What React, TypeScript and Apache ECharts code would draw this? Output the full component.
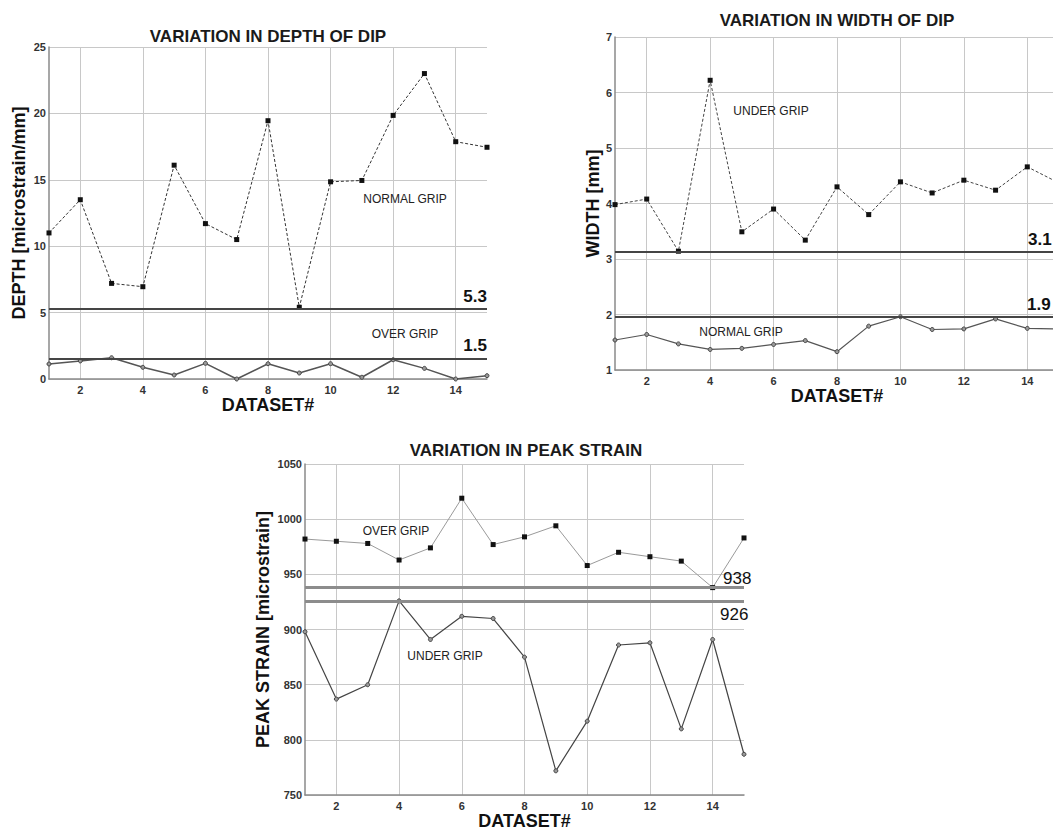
import { useEffect, useRef } from "react";
import * as echarts from "echarts";

const FONT = "'Liberation Sans', Arial, Helvetica, sans-serif";

const datasets = ["1", "2", "3", "4", "5", "6", "7", "8", "9", "10", "11", "12", "13", "14", "15"];

// Chart 1: variation in depth of dip
const depthNormalGrip = [11.0, 13.5, 7.2, 6.95, 16.1, 11.7, 10.5, 19.45, 5.4, 14.85, 14.95, 19.85, 23.0, 17.87, 17.45];
const depthOverGrip = [1.13, 1.36, 1.6, 0.88, 0.3, 1.18, 0.0, 1.15, 0.45, 1.15, 0.13, 1.45, 0.8, 0.0, 0.25];
const depthThresholds = [5.3, 1.56];
const depthThresholdLabels = ["5.3", "1.5"];

// Chart 2: variation in width of dip
const widthUnderGrip = [3.98, 4.08, 3.14, 6.22, 3.49, 3.9, 3.34, 4.3, 3.8, 4.39, 4.19, 4.42, 4.24, 4.66, 4.37];
const widthNormalGrip = [1.54, 1.64, 1.47, 1.37, 1.39, 1.46, 1.53, 1.33, 1.79, 1.96, 1.73, 1.74, 1.92, 1.75, 1.74];
const widthThresholds = [3.13, 1.96];
const widthThresholdLabels = ["3.1", "1.9"];

// Chart 3: variation in peak strain
const strainOverGrip = [982, 980, 978, 963, 974, 1019, 977, 984, 994, 958, 970, 966, 962, 938, 983];
const strainUnderGrip = [898, 837, 850, 926, 891, 912, 910, 875, 772, 817, 886, 888, 810, 891, 787];
const strainThresholds = [938, 926];
const strainThresholdLabels = ["938", "926"];

const titles = ["VARIATION IN DEPTH OF DIP", "VARIATION IN WIDTH OF DIP", "VARIATION IN PEAK STRAIN"];
const yNames = ["DEPTH [microstrain/mm]", "WIDTH [mm]", "PEAK STRAIN [microstrain]"];

const evenOnly = (index: number) => (index + 1) % 2 === 0;

const nameStyle = { fontSize: 18, fontWeight: "bold", color: "#111", fontFamily: FONT };
const tickLabel = { color: "#333", fontSize: 11, fontWeight: "bold", fontFamily: FONT };
const gridLineStyle = { color: "#c8c8c8", width: 1 };
const axisLineStyle = { color: "#8a8a8a", width: 1.5 };

function xAxisFor(gridIndex: number, nameGap: number) {
  return {
    type: "category",
    gridIndex,
    data: datasets,
    boundaryGap: false,
    name: "DATASET#",
    nameLocation: "middle",
    nameGap,
    nameTextStyle: nameStyle,
    axisLine: { show: true, lineStyle: axisLineStyle },
    axisTick: { show: false },
    axisLabel: { ...tickLabel, margin: 5, interval: (i: number) => evenOnly(i) },
    splitLine: { show: true, interval: (i: number) => evenOnly(i), lineStyle: gridLineStyle },
  };
}

function yAxisFor(gridIndex: number, min: number, max: number, interval: number, nameGap: number) {
  return {
    type: "value",
    gridIndex,
    min,
    max,
    interval,
    name: yNames[gridIndex],
    nameLocation: "middle",
    nameGap,
    nameTextStyle: nameStyle,
    axisLine: { show: true, lineStyle: axisLineStyle },
    axisTick: { show: false },
    axisLabel: { ...tickLabel, margin: 3, formatter: (v: number) => String(v) },
    splitLine: { show: true, lineStyle: gridLineStyle },
  };
}

function thresholdMarkLine(values: number[], color: string, width: number) {
  return {
    silent: true,
    symbol: "none",
    animation: false,
    label: { show: false },
    lineStyle: { color, width, type: "solid" },
    data: values.map((v) => ({ yAxis: v })),
  };
}

function squareSeries(idx: number, data: number[], lineColor: string, dashed: boolean, marks?: any) {
  return {
    type: "line",
    xAxisIndex: idx,
    yAxisIndex: idx,
    data,
    symbol: "rect",
    symbolSize: 5,
    showSymbol: true,
    lineStyle: { color: lineColor, width: 1, type: dashed ? [3, 2] : "solid" },
    itemStyle: { color: "#111" },
    markLine: marks,
    z: 3,
  };
}

function circleSeries(idx: number, data: number[], lineColor: string, width: number, marks?: any) {
  return {
    type: "line",
    xAxisIndex: idx,
    yAxisIndex: idx,
    data,
    symbol: "circle",
    symbolSize: 4,
    showSymbol: true,
    lineStyle: { color: lineColor, width, type: "solid" },
    itemStyle: { color: "#999", borderColor: "#444", borderWidth: 1 },
    markLine: marks,
    z: 3,
  };
}

export default function App() {
  const ref = useRef<HTMLDivElement>(null);

  useEffect(() => {
    if (!ref.current) return;
    const chart = echarts.init(ref.current, null, { renderer: "svg" });

    const option: any = {
      animation: false,
      backgroundColor: "#ffffff",
      textStyle: { fontFamily: FONT },
      grid: [
        { left: 49, top: 47, width: 438, height: 332 },
        { left: 615, top: 37, width: 444, height: 333 },
        { left: 305, top: 464, width: 439, height: 334 },
      ],
      xAxis: [xAxisFor(0, 16), xAxisFor(1, 16), xAxisFor(2, 13)],
      yAxis: [
        yAxisFor(0, 0, 25, 5, 21),
        yAxisFor(1, 1, 7, 1, 11),
        yAxisFor(2, 750, 1050, 50, 33),
      ],
      series: [
        squareSeries(0, depthNormalGrip, "#333", true, thresholdMarkLine(depthThresholds, "#454545", 2)),
        circleSeries(0, depthOverGrip, "#555", 1.5),
        squareSeries(1, widthUnderGrip, "#444", true, thresholdMarkLine(widthThresholds, "#454545", 2)),
        circleSeries(1, widthNormalGrip, "#555", 1.2),
        squareSeries(2, strainOverGrip, "#9a9a9a", false, thresholdMarkLine(strainThresholds, "#8c8c8c", 3)),
        circleSeries(2, strainUnderGrip, "#444", 1.2),
      ],
    };
    chart.setOption(option);

    const yPx = (idx: number, v: number) => chart.convertToPixel({ yAxisIndex: idx }, v) as number;
    const xPx = (idx: number, i: number) => chart.convertToPixel({ xAxisIndex: idx }, i) as number;

    const txt = (x: number, y: number, text: string, font: string, align: string, vAlign: string, fill = "#222") => ({
      type: "text",
      x,
      y,
      silent: true,
      z: 10,
      style: {
        text,
        font,
        fill,
        align,
        textAlign: align,
        verticalAlign: vAlign,
        textVerticalAlign: vAlign,
      },
    });

    const titleFont = `bold 17px ${FONT}`;
    const thrFont = `bold 17px ${FONT}`;
    const strainFont = `17px ${FONT}`;
    const noteFont = `12px ${FONT}`;

    const last = datasets.length - 1;
    const graphic: any[] = [
      txt(268, 36, titles[0], titleFont, "center", "middle", "#1a1a1a"),
      txt(837, 20, titles[1], titleFont, "center", "middle", "#1a1a1a"),
      txt(526, 450, titles[2], titleFont, "center", "middle", "#1a1a1a"),
      // threshold labels
      txt(xPx(0, last), yPx(0, depthThresholds[0]) - 4, depthThresholdLabels[0], thrFont, "right", "bottom", "#111"),
      txt(xPx(0, last), yPx(0, depthThresholds[1]) - 4, depthThresholdLabels[1], thrFont, "right", "bottom", "#111"),
      txt(xPx(1, last) - 31, yPx(1, widthThresholds[0]) - 4, widthThresholdLabels[0], thrFont, "left", "bottom", "#111"),
      txt(xPx(1, last) - 32, yPx(1, widthThresholds[1]) - 4, widthThresholdLabels[1], thrFont, "left", "bottom", "#111"),
      txt(xPx(2, last) - 21, yPx(2, strainThresholds[0]) - 1, strainThresholdLabels[0], strainFont, "left", "bottom", "#111"),
      txt(xPx(2, last) - 24, yPx(2, strainThresholds[1]) + 5, strainThresholdLabels[1], strainFont, "left", "top", "#111"),
      // series annotations
      txt(405, 199, "NORMAL GRIP", noteFont, "center", "middle"),
      txt(405, 334, "OVER GRIP", noteFont, "center", "middle"),
      txt(771, 111, "UNDER GRIP", noteFont, "center", "middle"),
      txt(741, 332, "NORMAL GRIP", noteFont, "center", "middle"),
      txt(396, 531, "OVER GRIP", noteFont, "center", "middle"),
      txt(445, 656, "UNDER GRIP", noteFont, "center", "middle"),
    ];
    chart.setOption({ graphic });

    return () => {
      chart.dispose();
    };
  }, []);

  return (
    <div
      style={{
        position: "absolute",
        left: 0,
        top: 0,
        width: 1053,
        height: 831,
        overflow: "hidden",
        background: "#fff",
      }}
    >
      <div ref={ref} style={{ width: 1075, height: 831 }} />
    </div>
  );
}
